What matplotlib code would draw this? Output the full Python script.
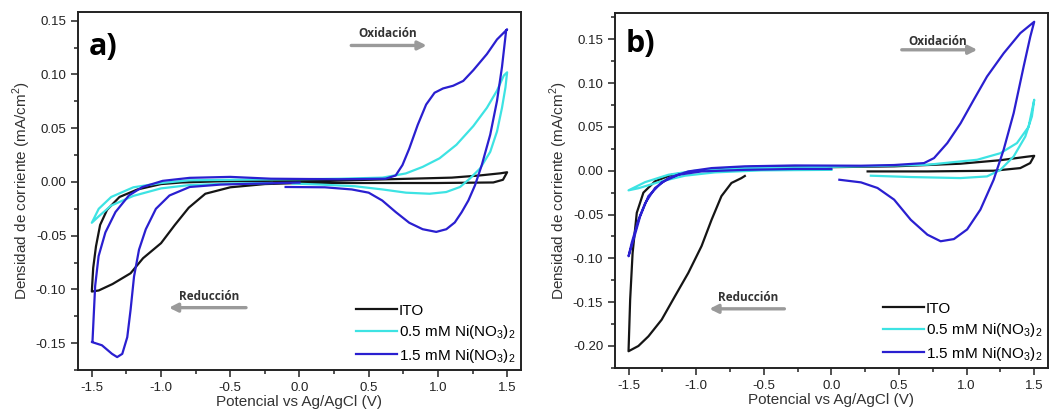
import matplotlib
matplotlib.use('Agg')
import matplotlib.pyplot as plt
from matplotlib.ticker import MultipleLocator, FormatStrFormatter

plt.rcParams['font.family'] = ['Liberation Sans', 'DejaVu Sans']
plt.rcParams['axes.unicode_minus'] = False
plt.rcParams['mathtext.fontset'] = 'custom'
plt.rcParams['mathtext.rm'] = 'Liberation Sans'

# ---- panel a) : potential (V) / current density (mA/cm2)
ito_a_v = [0.0, 0.5, 1.0, 1.4, 1.47, 1.5, 1.45, 1.3, 1.1, 0.8, 0.5, 0.2, -0.2, -0.6, -0.85, -1.0,
           -1.17, -1.3, -1.39, -1.44, -1.47, -1.49, -1.5, -1.45, -1.35, -1.22, -1.13, -1.0, -0.9,
           -0.8, -0.68, -0.5, -0.25, 0.0]
ito_a_j = [-0.001, -0.001, -0.001, -0.0005, 0.002, 0.009, 0.008, 0.006, 0.004, 0.003, 0.002, 0.001,
           0.001, 0.0005, -0.0005, -0.002, -0.007, -0.014, -0.026, -0.040, -0.060, -0.080, -0.102,
           -0.101, -0.095, -0.085, -0.071, -0.057, -0.040, -0.024, -0.011, -0.005, -0.002, -0.001]

ni05_a_v = [-0.05, 0.16, 0.4, 0.6, 0.77, 0.94, 1.06, 1.16, 1.23, 1.305, 1.378, 1.427, 1.463, 1.488,
            1.5, 1.476, 1.427, 1.354, 1.256, 1.134, 1.012, 0.89, 0.768, 0.6, 0.3, 0.0, -0.5, -0.8,
            -1.0, -1.2, -1.36, -1.45, -1.5, -1.45, -1.36, -1.2, -1.0, -0.8, -0.5, -0.2]
ni05_a_j = [-0.0015, -0.0025, -0.004, -0.007, -0.010, -0.011, -0.0094, -0.0047, 0.003, 0.0126,
            0.028, 0.047, 0.069, 0.088, 0.102, 0.099, 0.085, 0.069, 0.052, 0.0346, 0.022, 0.014,
            0.0079, 0.004, 0.003, 0.0025, 0.002, 0.0015, -0.001, -0.005, -0.014, -0.025, -0.038,
            -0.032, -0.022, -0.013, -0.006, -0.003, -0.0015, -0.001]

ni15_a_v = [-0.1, 0.183, 0.378, 0.5, 0.598, 0.695, 0.793, 0.89, 0.988, 1.061, 1.122, 1.171, 1.22,
            1.268, 1.317, 1.378, 1.427, 1.463, 1.493, 1.5, 1.427, 1.354, 1.256, 1.183, 1.11, 1.037,
            0.976, 0.915, 0.854, 0.793, 0.744, 0.695, 0.622, 0.28, -0.207, -0.5, -0.793, -0.988,
            -1.134, -1.232, -1.329, -1.402, -1.451, -1.476, -1.495, -1.5, -1.427, -1.354, -1.317,
            -1.28, -1.244, -1.22, -1.195, -1.159, -1.11, -1.037, -0.939, -0.793, -0.573, -0.329,
            0.0]
ni15_a_j = [-0.0047, -0.005, -0.007, -0.010, -0.0173, -0.028, -0.038, -0.044, -0.0465, -0.044,
            -0.0377, -0.0283, -0.0173, -0.0031, 0.0157, 0.044, 0.0754, 0.107, 0.141, 0.142, 0.1326,
            0.119, 0.104, 0.094, 0.0895, 0.087, 0.083, 0.072, 0.053, 0.031, 0.0157, 0.006, 0.003,
            0.0025, 0.003, 0.0047, 0.0038, 0.001, -0.0047, -0.0126, -0.028, -0.047, -0.069,
            -0.097, -0.148, -0.149, -0.152, -0.160, -0.163, -0.160, -0.1445, -0.119, -0.088,
            -0.063, -0.044, -0.025, -0.0126, -0.0047, -0.0025, -0.0016, -0.0006]

# ---- panel b)
ito_b_v = [0.268, 0.71, 1.2, 1.397, 1.47, 1.5, 1.446, 1.25, 0.955, 0.464, -0.027, -0.27, -0.518,
           -0.764, -1.009, -1.18, -1.304, -1.39, -1.439, -1.47, -1.488, -1.5, -1.427, -1.353,
           -1.255, -1.156, -1.058, -0.96, -0.886, -0.813, -0.739, -0.665, -0.64]
ito_b_j = [-0.0008, -0.0008, 0.0, 0.003, 0.0087, 0.017, 0.016, 0.012, 0.008, 0.005, 0.004, 0.005,
           0.005, 0.003, -0.0008, -0.0046, -0.012, -0.025, -0.048, -0.094, -0.147, -0.206, -0.200,
           -0.189, -0.170, -0.143, -0.1166, -0.086, -0.056, -0.029, -0.014, -0.0084, -0.006]

ni05_b_v = [0.292, 0.587, 0.955, 1.151, 1.25, 1.348, 1.434, 1.483, 1.5, 1.458, 1.372, 1.25, 1.078,
            0.71, 0.219, -0.273, -0.64, -1.009, -1.205, -1.377, -1.5, -1.427, -1.255, -1.083,
            -0.862, -0.518, 0.0]
ni05_b_j = [-0.0057, -0.0072, -0.0084, -0.0065, 0.001, 0.0163, 0.039, 0.062, 0.081, 0.050, 0.0315,
            0.020, 0.0125, 0.0068, 0.005, 0.0038, 0.003, 0.0, -0.0046, -0.013, -0.0224, -0.020,
            -0.012, -0.0057, -0.0019, 0.0004, 0.001]

ni15_b_v = [0.059, 0.219, 0.341, 0.464, 0.587, 0.71, 0.808, 0.906, 1.004, 1.102, 1.2, 1.274, 1.348,
            1.422, 1.471, 1.5, 1.397, 1.274, 1.151, 1.053, 0.955, 0.857, 0.759, 0.685, 0.464,
            0.219, -0.273, -0.64, -0.886, -1.058, -1.205, -1.304, -1.377, -1.427, -1.476, -1.5,
            -1.463, -1.414, -1.353, -1.255, -1.132, -0.96, -0.64, -0.273, 0.0]
ni15_b_j = [-0.0103, -0.0133, -0.0197, -0.033, -0.056, -0.073, -0.0805, -0.078, -0.067, -0.0444,
            -0.0103, 0.024, 0.0657, 0.119, 0.153, 0.170, 0.157, 0.134, 0.1075, 0.081, 0.054, 0.0315,
            0.0144, 0.0087, 0.0065, 0.0057, 0.006, 0.005, 0.003, -0.0008, -0.0084, -0.0197, -0.037,
            -0.056, -0.082, -0.0976, -0.0786, -0.052, -0.029, -0.0133, -0.0046, -0.0008, 0.001,
            0.002, 0.002]

labels = ['ITO', '0.5 mM Ni(NO$_3$)$_2$', '1.5 mM Ni(NO$_3$)$_2$']
colors = ['#151515', '#3de3e3', '#2a1fd0']

fig = plt.figure(figsize=(10.58, 4.19), dpi=100)
ax1 = fig.add_axes([0.0737, 0.117, 0.4187, 0.854])
ax2 = fig.add_axes([0.5813, 0.122, 0.409, 0.847])


def style_axes(ax, ylim, ymajor):
    ax.set_xlim(-1.6, 1.6)
    ax.set_ylim(*ylim)
    ax.xaxis.set_major_locator(MultipleLocator(0.5))
    ax.xaxis.set_minor_locator(MultipleLocator(0.25))
    ax.yaxis.set_major_locator(MultipleLocator(ymajor))
    ax.yaxis.set_minor_locator(MultipleLocator(ymajor / 2))
    ax.xaxis.set_major_formatter(FormatStrFormatter('%.1f'))
    ax.yaxis.set_major_formatter(FormatStrFormatter('%.2f'))
    ax.tick_params(which='both', direction='out', top=False, right=False,
                   labelsize=9.5, colors='#222222', width=1.1)
    ax.tick_params(which='major', length=5)
    ax.tick_params(which='minor', length=3)
    for sp in ax.spines.values():
        sp.set_linewidth(1.4)
        sp.set_color('#222222')
    ax.set_xlabel('Potencial vs Ag/AgCl (V)', fontsize=11, labelpad=1, color='#333333')
    ax.set_ylabel('Densidad de corriente (mA/cm$^2$)', fontsize=11, labelpad=2, color='#333333')


def add_notes(ax, tag, ox, oy, ax0, ax1_, ay, rx, ry, rx0, rx1, ryy, tag_xy):
    ax.text(tag_xy[0], tag_xy[1], tag, fontsize=22, fontweight='bold',
            family=['Open Sans', 'DejaVu Sans'], ha='left', va='center')
    arrow = dict(arrowstyle='-|>,head_length=0.5,head_width=0.25', color='#9a9a9a', lw=2.4)
    ax.annotate('', xy=(ax1_, ay), xytext=(ax0, ay), arrowprops=arrow)
    ax.text(ox, oy, 'Oxidación', fontsize=8.5, fontweight='bold', color='#333333',
            family=['Open Sans', 'DejaVu Sans'], ha='center', va='center')
    ax.annotate('', xy=(rx1, ryy), xytext=(rx0, ryy), arrowprops=arrow)
    ax.text(rx, ry, 'Reducción', fontsize=8.5, fontweight='bold', color='#333333',
            family=['Open Sans', 'DejaVu Sans'], ha='center', va='center')


for ax, series in [(ax1, [(ito_a_v, ito_a_j), (ni05_a_v, ni05_a_j), (ni15_a_v, ni15_a_j)]),
                   (ax2, [(ito_b_v, ito_b_j), (ni05_b_v, ni05_b_j), (ni15_b_v, ni15_b_j)])]:
    for (v, j), c, lab in zip(series, colors, labels):
        ax.plot(v, j, color=c, lw=1.6, label=lab, solid_joinstyle='round')
    ax.legend(loc='lower right', bbox_to_anchor=(1.012, -0.015), frameon=False, fontsize=11,
              handlelength=2.7, handletextpad=0.1, labelspacing=0.36, borderaxespad=0.3)

style_axes(ax1, (-0.175, 0.158), 0.05)
style_axes(ax2, (-0.225, 0.18), 0.05)

add_notes(ax1, 'a)', 0.634, 0.138, 0.354, 0.939, 0.127, -0.654, -0.107, -0.366, -0.963, -0.117,
          (-1.52, 0.126))
add_notes(ax2, 'b)', 0.786, 0.148, 0.50, 1.10, 0.138, -0.619, -0.145, -0.327, -0.923, -0.1576,
          (-1.52, 0.145))

fig.savefig('out.png', dpi=100)
